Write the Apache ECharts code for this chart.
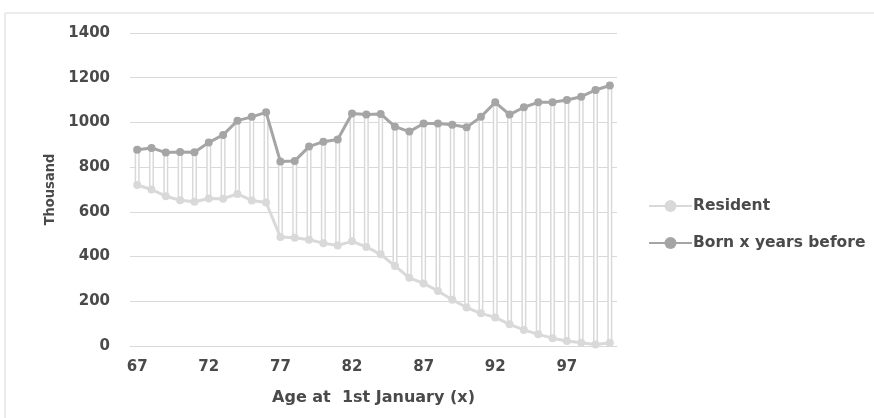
<!DOCTYPE html>
<html>
<head>
<meta charset="utf-8">
<script src="https://cdn.jsdelivr.net/npm/echarts@6/dist/echarts.min.js"></script>
<style>
html,body{margin:0;padding:0;background:#fff;}
#chart{width:874px;height:418px;}
</style>
</head>
<body>
<div id="chart"></div>
<script>
const ages = [67,68,69,70,71,72,73,74,75,76,77,78,79,80,81,82,83,84,85,86,87,88,89,90,91,92,93,94,95,96,97,98,99,100];
const resident = [720,700,670,652,645,660,659,680,651,642,487,484,475,460,450,468,443,410,358,305,280,246,207,172,146,128,97,72,52,35,22,15,7,15];
const bornBefore = [878,886,865,868,867,910,944,1008,1025,1045,825,828,892,914,924,1040,1036,1038,981,959,995,995,990,978,1025,1090,1035,1068,1090,1090,1100,1115,1145,1165];
const yTicks = [0,200,400,600,800,1000,1200,1400];

const catLabels = ages.map(String);
const baseVals = resident.slice();
const spanVals = bornBefore.map((v,i)=>v-resident[i]);

const textColor = '#4a4a4a';
const fontFam = '"DejaVu Sans", sans-serif';

const chart = echarts.init(document.getElementById('chart'), null, {renderer:'canvas'});
chart.setOption({
  animation:false,
  backgroundColor:'#fff',
  graphic:[{type:'rect',shape:{x:5,y:13,width:1000,height:600},style:{fill:'none',stroke:'#d9d9d9',lineWidth:1},silent:true}],
  grid:{left:130,right:257,top:33,bottom:72,containLabel:false},
  legend:{
    orient:'vertical', left:643, top:193, itemGap:21, itemWidth:43, itemHeight:15,
    data:['Resident','Born x years before'],
    textStyle:{color:textColor,fontSize:15.5,fontWeight:'bold',fontFamily:fontFam,padding:[0,0,0,-4]}
  },
  xAxis:{
    type:'category', data:catLabels, boundaryGap:true,
    name:'Age at  1st January (x)', nameLocation:'middle', nameGap:44,
    nameTextStyle:{color:textColor,fontSize:16,fontWeight:'bold',fontFamily:fontFam},
    axisLine:{lineStyle:{color:'#d9d9d9',width:1}},
    axisTick:{show:false},
    axisLabel:{interval:4,color:textColor,fontSize:15,fontWeight:'bold',fontFamily:fontFam,margin:14}
  },
  yAxis:{
    type:'value', min:0, max:1400, interval:200,
    name:'Thousand', nameLocation:'middle', nameGap:72, nameRotate:90,
    nameTextStyle:{color:textColor,fontSize:14.5,fontWeight:'bold',fontFamily:'"Liberation Sans Narrow","DejaVu Sans Condensed",sans-serif'},
    axisLine:{show:false}, axisTick:{show:false},
    splitLine:{lineStyle:{color:'#d9d9d9',width:1}},
    axisLabel:{color:textColor,fontSize:15,fontWeight:'bold',fontFamily:fontFam,margin:20,
      formatter:v=>yTicks.includes(v)?String(v):''}
  },
  series:[
    {name:'base',type:'bar',stack:'hl',data:baseVals,barWidth:5,silent:true,
      itemStyle:{color:'rgba(0,0,0,0)'},z:1,legendHoverLink:false},
    {name:'span',type:'bar',stack:'hl',data:spanVals,barWidth:5,silent:true,
      itemStyle:{color:'#ffffff',borderColor:'#d9d9d9',borderWidth:1.5},z:1},
    {name:'Resident',type:'line',data:resident,symbol:'circle',symbolSize:8,
      lineStyle:{color:'#d9d9d9',width:3},itemStyle:{color:'#d9d9d9'},z:3},
    {name:'Born x years before',type:'line',data:bornBefore,symbol:'circle',symbolSize:8,
      lineStyle:{color:'#a5a5a5',width:3},itemStyle:{color:'#a5a5a5'},z:4}
  ]
});
</script>
</body>
</html>
